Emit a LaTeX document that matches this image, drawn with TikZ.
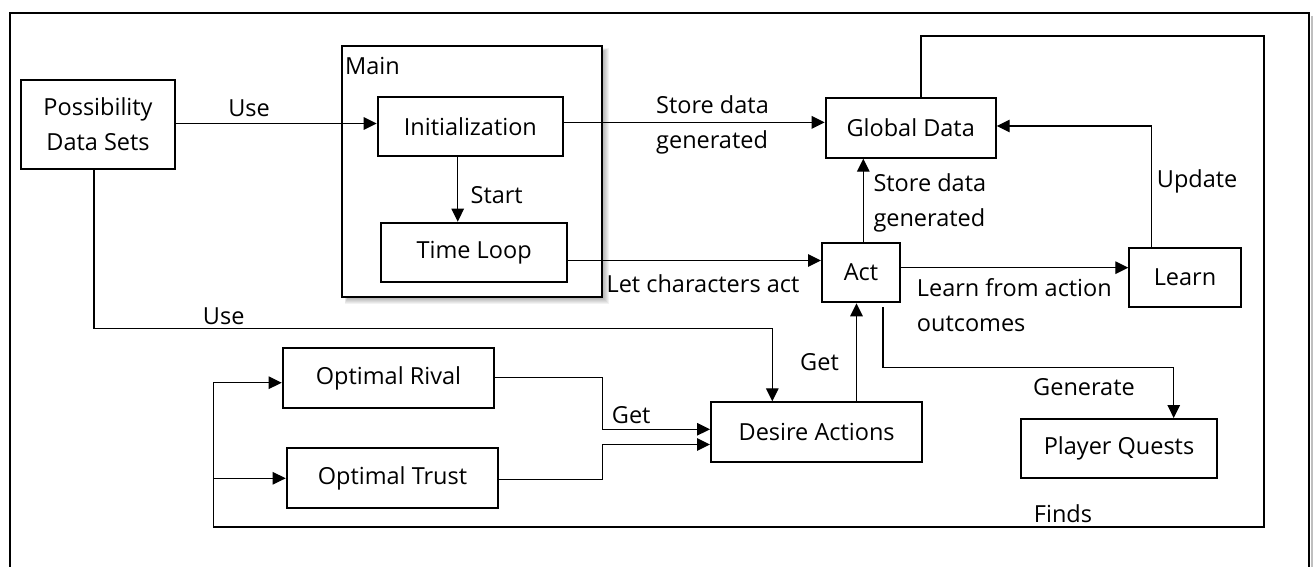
\documentclass[tikz,border=0pt]{standalone}
\usepackage{fontspec}
\setmainfont{Open Sans}
\usetikzlibrary{arrows.meta,calc}

\tikzset{
  box/.style={draw, line width=2pt, inner sep=0pt, align=center},
  conn/.style={line width=1.3pt},
  arr/.style={conn, -{Triangle[length=13pt,width=12.5pt]}},
  lbl/.style={inner sep=0pt, align=left},
}

\begin{document}
\begin{tikzpicture}[x=1pt, y=-1pt, font=\fontsize{23.5}{35}\selectfont]
\useasboundingbox (0,0) rectangle (1315,567);

% outer frame with a faint shadow on its right side
\draw[black!25, line width=2pt] (1311.5,16) -- (1311.5,567);
\draw[line width=2pt] (9.5,567) -- (9.5,13) -- (1309,13) -- (1309,567);

% soft shadow behind the Main container
\foreach \d in {0,1,2,3,4,5}{
  \fill[black, opacity=0.05] ($(471.85,171.2)+(-129.85+5-\d*0.5,-125.5+5-\d*0.5)$)
      rectangle ($(471.85,171.2)+(129.85+2+\d,125.5+2+\d)$);
}

% container and boxes
\node[box, fill=white, minimum width=259.7pt, minimum height=251pt] (main) at (471.85,171.2) {};
\node[lbl, anchor=west] (mainlbl) at (345,66) {Main};

\node[box, minimum width=154pt, minimum height=89pt] (pds) at (98,124.5) {Possibility\\Data Sets};
\node[box, minimum width=185.3pt, minimum height=59.3pt] (init) at (470.35,126.35) {Initialization};
\node[box, minimum width=186.3pt, minimum height=59pt] (tloop) at (474.15,252.2) {Time Loop};
\node[box, minimum width=170pt, minimum height=59.4pt] (gdata) at (910.7,128) {Global Data};
\node[box, minimum width=78pt, minimum height=59.6pt] (act) at (861,272.5) {Act};
\node[box, minimum width=111.4pt, minimum height=58.7pt] (learn) at (1185,277.65) {Learn};
\node[box, minimum width=211.3pt, minimum height=60pt] (desire) at (816.65,432.3) {Desire Actions};
\node[box, minimum width=211.6pt, minimum height=60pt] (rival) at (388.5,378.3) {Optimal Rival};
\node[box, minimum width=211.6pt, minimum height=60pt] (trust) at (392.5,478.3) {Optimal Trust};
\node[box, minimum width=196.6pt, minimum height=59.3pt] (quests) at (1119,448.65) {Player Quests};

% bend points of the routed connectors
\coordinate (tr) at (1264,36);
\coordinate (br) at (1264,527);
\coordinate (bl) at (213.3,527);
\coordinate (uc) at (772.3,328.3);
\coordinate (jr) at (602.3,429.3);
\coordinate (jt) at (602.5,444.5);
\coordinate (ga) at (1173.7,367.7);

% connectors
\draw[arr] ([yshift=1pt]pds.east) -- ([yshift=1pt]pds.east -| init.west);
\draw[arr] ([yshift=4pt]init.east) -- ([yshift=4pt]init.east -| gdata.west);
\draw[arr] ([xshift=-12.65pt]init.south) -- ([xshift=-12.65pt]init.south |- tloop.north);
\draw[arr] ([yshift=-8.3pt]tloop.east) -- ([yshift=-8.3pt]tloop.east -| act.west);
\draw[arr] ([xshift=2.3pt]act.north) -- ([xshift=2.3pt]act.north |- gdata.south);
\draw[arr] ([yshift=4.8pt]act.east) -- ([yshift=4.8pt]act.east -| learn.west);
\draw[arr] ([xshift=-33.3pt]learn.north) |- ([yshift=2pt]gdata.east);
\draw[arr] ([xshift=10.3pt]gdata.north) |- (tr) -- (br) -- (bl) |- ([yshift=-4.4pt]rival.west);
\draw[arr] (bl |- trust.west) -- (trust.west);
\draw[arr] ([xshift=-4pt]pds.south) |- (uc) -- (uc |- desire.north);
\draw[arr] ([yshift=0.6pt]rival.east) -| (jr) -- (jr -| desire.west);
\draw[arr] ([yshift=-1.2pt]trust.east) -| (jt) -- (jt -| desire.west);
\draw[arr] ([xshift=39.85pt]desire.north) -- ([xshift=39.85pt]desire.north |- act.south);
\draw[arr] ([xshift=22pt,yshift=-4pt]act.south) |- (ga) -- (ga |- quests.north);

% connector labels
\node[lbl] (l1) at (249,108) {Use};
\node[lbl, anchor=west] (l2) at (656,125) {Store data\\generated};
\node[lbl] (l3) at (496.7,195) {Start};
\node[lbl] (l4) at (703,283.3) {Let characters act};
\node[lbl, anchor=west] (l5) at (873.3,203) {Store data\\generated};
\node[lbl, anchor=west] (l6) at (916.7,305.3) {Learn from action\\outcomes};
\node[lbl, anchor=west] (l7) at (1156.7,181.7) {Update};
\node[lbl] (l8) at (223.7,316.7) {Use};
\node[lbl] (l9) at (631.2,415) {Get};
\node[lbl] (l10) at (819.5,361.7) {Get};
\node[lbl] (l11) at (1084,387.3) {Generate};
\node[lbl] (l12) at (1063,513.3) {Finds};
\end{tikzpicture}
\end{document}
